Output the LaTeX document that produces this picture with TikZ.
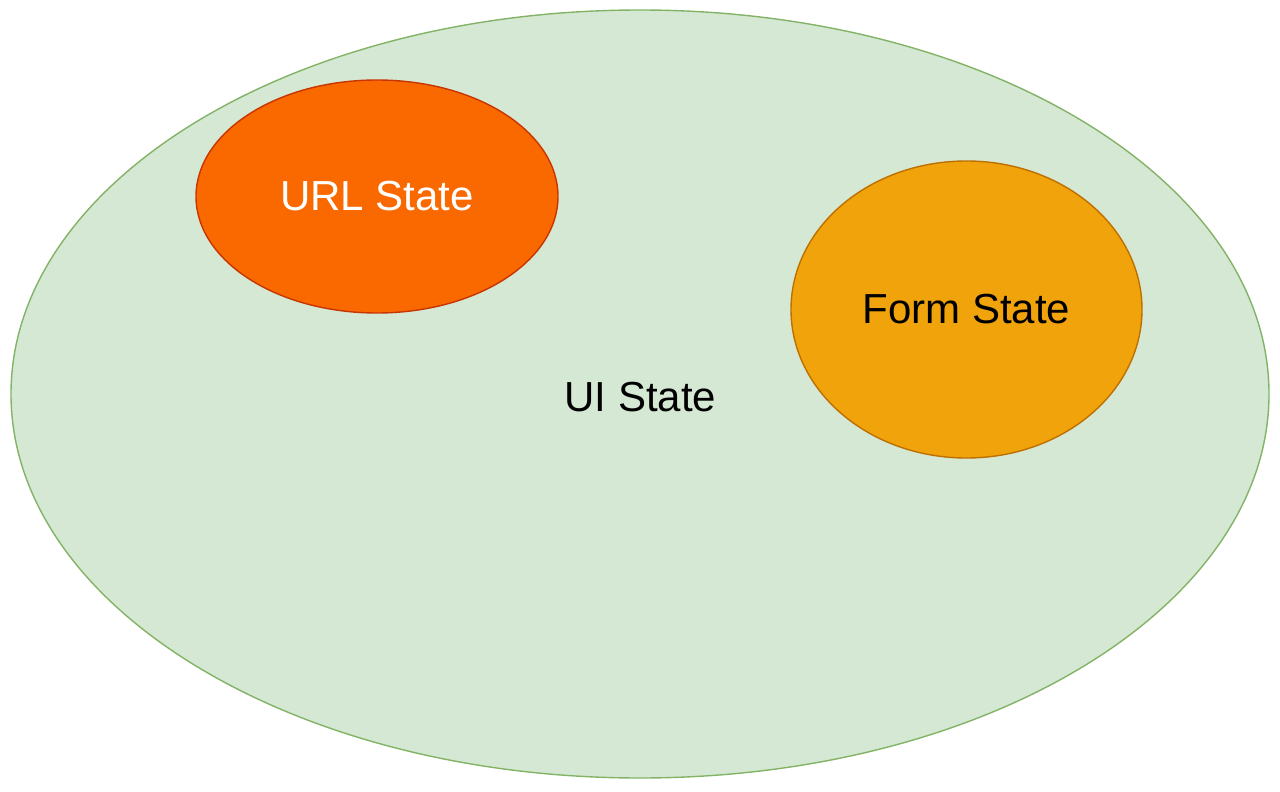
\documentclass[tikz,border=0pt]{standalone}
\usepackage{fontspec}
\setmainfont{Liberation Sans}
\usetikzlibrary{shapes.geometric}
\definecolor{uifill}{HTML}{D5E8D4}
\definecolor{uidraw}{HTML}{82B366}
\definecolor{urlfill}{HTML}{FA6800}
\definecolor{urldraw}{HTML}{C73500}
\definecolor{formfill}{HTML}{F0A30A}
\definecolor{formdraw}{HTML}{BD7000}
\tikzset{
  blob/.style={ellipse, inner sep=0pt, line width=0.7pt, font=\fontsize{21}{25}\selectfont},
}
\begin{document}
\begin{tikzpicture}[x=0.5pt,y=-0.5pt]
\useasboundingbox (0,0) rectangle (1280,792);
\node[blob, draw=uidraw, fill=uifill, minimum width=629pt, minimum height=384pt] (ui) at (640,394) {};
\node[font=\fontsize{21}{25}\selectfont, inner sep=0pt] (uilabel) at (640.5,397.5) {UI State};
\node[blob, draw=urldraw, fill=urlfill, text=white, minimum width=181pt, minimum height=116.5pt] (url) at (377,196.5) {\raisebox{-1pt}{URL State}};
\node[blob, draw=formdraw, fill=formfill, text=black, minimum width=175.5pt, minimum height=148.5pt] (form) at (966.5,309.5) {\raisebox{-1pt}{Form State}};
\end{tikzpicture}
\end{document}
